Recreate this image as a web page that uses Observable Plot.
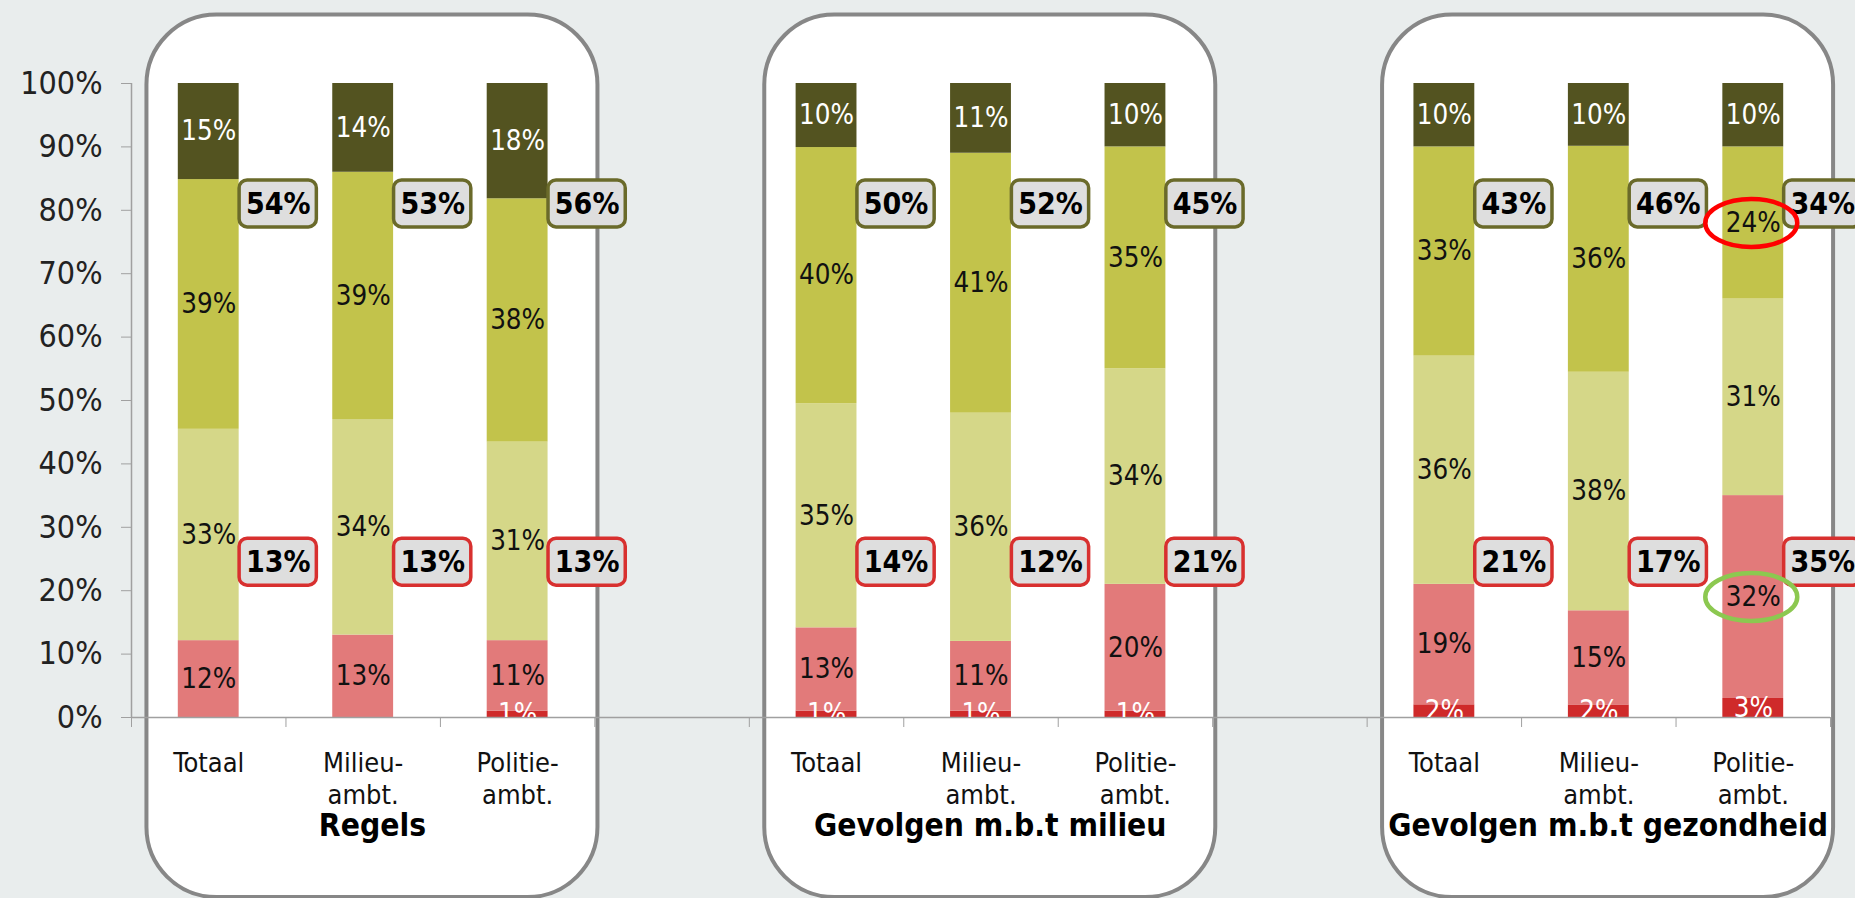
<!DOCTYPE html>
<html>
<head>
<meta charset="utf-8">
<script src="https://cdn.jsdelivr.net/npm/d3@7"></script>
<script src="https://cdn.jsdelivr.net/npm/@observablehq/plot@0.6"></script>
<style>
  html, body { margin: 0; padding: 0; background: #e9eded; overflow: hidden; }
  #chart svg { display: block; font-stretch: condensed; }
</style>
</head>
<body>
<div id="chart"></div>
<script>
// ---- data ----
const panels = ["Regels", "Gevolgen m.b.t milieu", "Gevolgen m.b.t gezondheid"];
const groups = ["Totaal", "Milieu-\nambt.", "Politie-\nambt."];
const segments = ["rood", "roze", "lichtgeel", "geel", "donker"];
// per bar: Regels (Totaal, Milieu, Politie), Milieu (...), Gezondheid (...)
const rood      = [0, 0, 1,   1, 1, 1,   2, 2, 3];
const roze      = [12, 13, 11, 13, 11, 20, 19, 15, 32];
const lichtgeel = [33, 34, 31, 35, 36, 34, 36, 38, 31];
const geel      = [39, 39, 38, 40, 41, 35, 33, 36, 24];
const donker    = [15, 14, 18, 10, 11, 10, 10, 10, 10];
const totaalBoven = [54, 53, 56, 50, 52, 45, 43, 46, 34];
const totaalOnder = [13, 13, 13, 14, 12, 21, 21, 17, 35];
const yTicks = [0, 10, 20, 30, 40, 50, 60, 70, 80, 90, 100];
// highlighted labels (panel index, group index, segment)
const omcirkeld = [
  {panel: 2, group: 2, segment: "geel", kleur: "rood"},
  {panel: 2, group: 2, segment: "roze", kleur: "groen"}
];

// ---- styling ----
const colors = ["#cf2a2a", "#e27a7a", "#d5d788", "#c2c34b", "#535320"];
const FONT = "'DejaVu Sans Condensed', 'DejaVu Sans', sans-serif";

// ---- tables built from arrays ----
const series = [rood, roze, lichtgeel, geel, donker];
const rows = [];
const bars = [];
panels.forEach((p, pi) => {
  groups.forEach((g, gi) => {
    const b = pi * 3 + gi;
    const i = pi * 4 + gi;
    bars.push({i, label: g, boven: totaalBoven[b], onder: totaalOnder[b]});
    segments.forEach((s, si) => {
      const hl = omcirkeld.find(o => o.panel === pi && o.group === gi && o.segment === s);
      rows.push({i, seg: s, v: series[si][b], hl: hl ? hl.kleur : null});
    });
  });
});
const panelRows = panels.map((name, pi) => ({name, i0: pi * 4}));

const bw = 0.197;
const stack = extra => Plot.stackY({x: "i", y: "v", z: "seg", offset: "normalize", order: null, ...extra});

const ellipse = {
  draw(ctx) {
    const rx = 46, ry = 24, k = 0.5523;
    ctx.moveTo(rx, 0);
    ctx.bezierCurveTo(rx, k * ry, k * rx, ry, 0, ry);
    ctx.bezierCurveTo(-k * rx, ry, -rx, k * ry, -rx, 0);
    ctx.bezierCurveTo(-rx, -k * ry, -k * rx, -ry, 0, -ry);
    ctx.bezierCurveTo(k * rx, -ry, rx, -k * ry, rx, 0);
    ctx.closePath();
  }
};

const isWhiteLabel = d => d.seg === "donker" || d.seg === "rood";

const chart = Plot.plot({
  width: 1855,
  height: 898,
  marginLeft: 131,
  marginRight: 25,
  marginTop: 83,
  marginBottom: 181,
  style: {background: "#e9eded", fontFamily: FONT, overflow: "visible"},
  x: {domain: [-0.5, 10.5], axis: null},
  y: {domain: [0, 1], axis: null},
  color: {domain: segments, range: colors},
  marks: [
    // rounded panels
    Plot.rect(panelRows, {
      x1: d => d.i0 - 0.4, x2: d => d.i0 + 2.52,
      y1: () => -0.284, y2: () => 1.108,
      rx: 70, ry: 70, fill: "white", stroke: "#878787", strokeWidth: 4
    }),
    // y axis
    Plot.ruleX([-0.5], {stroke: "#a0a0a0", strokeWidth: 1.5}),
    Plot.axisY({
      ticks: yTicks.map(t => t / 100), tickFormat: d => Math.round(d * 100) + "%",
      tickSize: 10, tickPadding: 19, fontSize: 32, stroke: "#a0a0a0", fill: "#222",
      anchor: "left", label: null
    }),
    // bars
    Plot.rectY(rows, stack({x1: d => d.i - bw, x2: d => d.i + bw, fill: "seg"})),
    // x axis line and boundary ticks
    Plot.ruleY([0], {stroke: "#a0a0a0", strokeWidth: 1.5}),
    Plot.axisX({
      ticks: d3.range(-0.5, 11, 1), tickFormat: () => "", tickSize: 10,
      stroke: "#a0a0a0", anchor: "bottom", label: null
    }),
    // segment labels
    Plot.text(rows, stack({
      text: d => (d.v > 0 && isWhiteLabel(d)) ? d.v + "%" : "",
      fill: "white", fontSize: 27.5, clip: true
    })),
    Plot.text(rows, stack({
      text: d => (d.v > 0 && !isWhiteLabel(d)) ? d.v + "%" : "",
      fill: "#111", fontSize: 27.5
    })),
    // summary boxes
    Plot.rect(bars, {
      x1: d => d.i + 0.2, x2: d => d.i + 0.7,
      y1: () => 0.81 - 0.037, y2: () => 0.81 + 0.037,
      rx: 8, ry: 8, fill: "#dedede", stroke: "#6a6a2a", strokeWidth: 3.5
    }),
    Plot.text(bars, {
      x: d => d.i + 0.45, y: () => 0.81, text: d => d.boven + "%",
      fontSize: 30, fontWeight: "bold", fill: "black"
    }),
    Plot.rect(bars, {
      x1: d => d.i + 0.2, x2: d => d.i + 0.7,
      y1: () => 0.245 - 0.037, y2: () => 0.245 + 0.037,
      rx: 8, ry: 8, fill: "#dedede", stroke: "#d8302f", strokeWidth: 3.5
    }),
    Plot.text(bars, {
      x: d => d.i + 0.45, y: () => 0.245, text: d => d.onder + "%",
      fontSize: 30, fontWeight: "bold", fill: "black"
    }),
    // highlight ellipses
    Plot.dot(rows, Plot.filter(d => d.hl === "rood", stack({
      symbol: ellipse, fill: "none", stroke: "#ff0000", strokeWidth: 4.5, dx: -2
    }))),
    Plot.dot(rows, Plot.filter(d => d.hl === "groen", stack({
      symbol: ellipse, fill: "none", stroke: "#8cc850", strokeWidth: 4.5, dx: -2
    }))),
    // category labels
    Plot.text(bars, {
      x: "i", y: () => 0, text: "label", dy: 31, lineAnchor: "top",
      lineHeight: 1.2, fontSize: 27, fill: "#111"
    }),
    // panel titles
    Plot.text(panelRows, {
      x: d => d.i0 + 1.06, y: () => 0, text: "name", dy: 108,
      fontSize: 31.5, fontWeight: "bold", fill: "black"
    })
  ]
});
document.getElementById("chart").append(chart);
</script>
</body>
</html>
